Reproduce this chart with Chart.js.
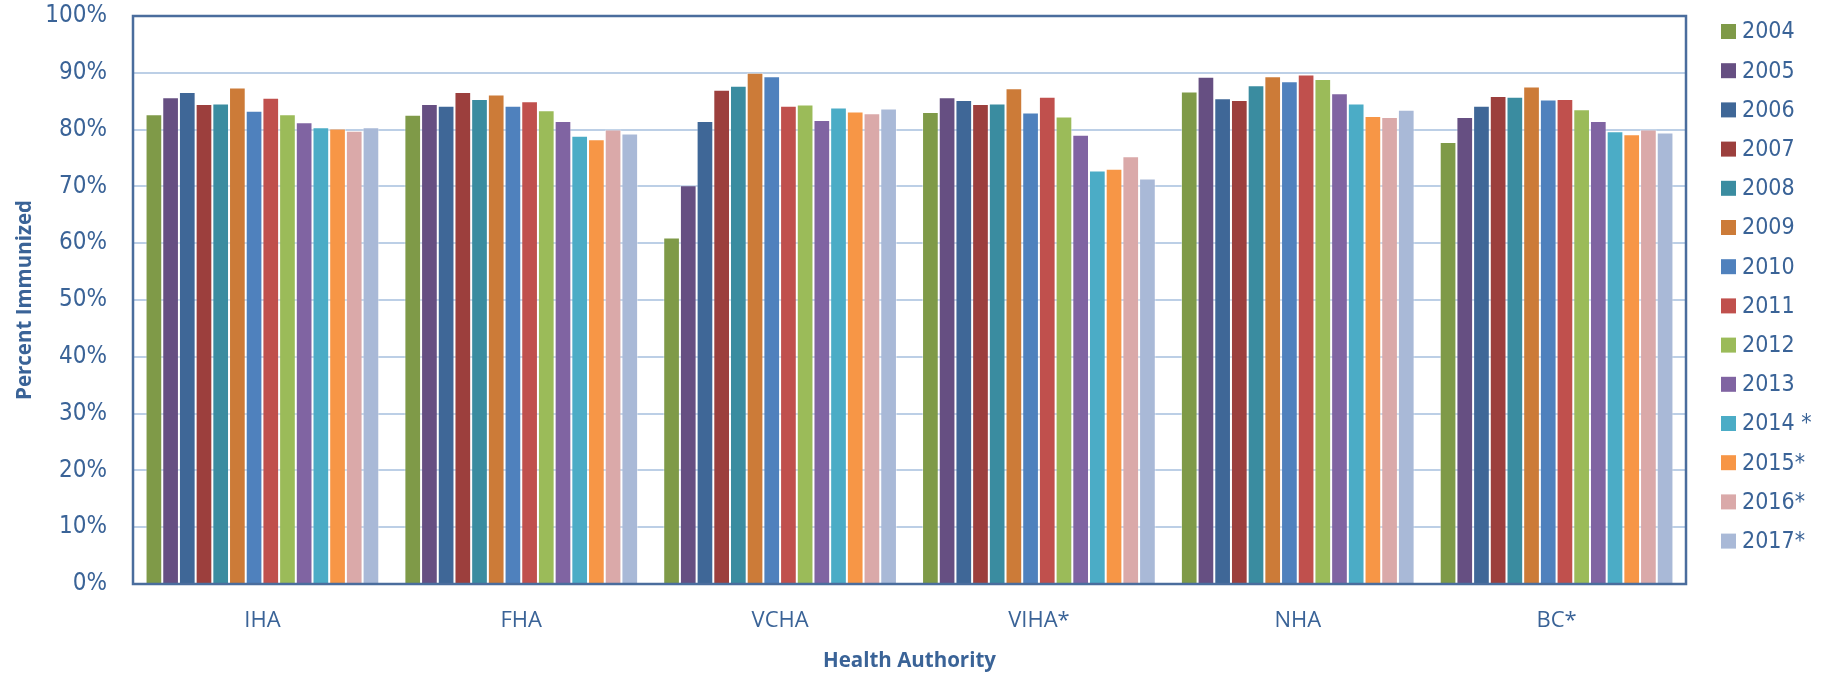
<!DOCTYPE html>
<html>
<head>
<meta charset="utf-8">
<title>Percent Immunized by Health Authority</title>
<script src="https://cdn.jsdelivr.net/npm/chart.js@4/dist/chart.umd.min.js"></script>
<style>
  html, body { margin: 0; padding: 0; background: #fff; }
  #wrap { width: 1831px; height: 674px; position: relative; }
</style>
</head>
<body>
<div id="wrap"><canvas id="myChart"></canvas></div>
<script>
// Régions (catégories) et années
const regions = ["IHA", "FHA", "VCHA", "VIHA*", "NHA", "BC*"];
const years = ["2004", "2005", "2006", "2007", "2008", "2009", "2010",
  "2011", "2012", "2013", "2014 *", "2015*", "2016*", "2017*"];

// Valeurs (% immunisés), une liste par année
const y2004 = [82.7, 82.6, 61.0, 83.1, 86.7, 77.8];
const y2005 = [85.7, 84.5, 70.2, 85.7, 89.3, 82.2];
const y2006 = [86.6, 84.2, 81.5, 85.2, 85.5, 84.2];
const y2007 = [84.5, 86.6, 87.0, 84.5, 85.2, 85.9];
const y2008 = [84.6, 85.4, 87.7, 84.6, 87.8, 85.8];
const y2009 = [87.4, 86.2, 90.0, 87.3, 89.4, 87.6];
const y2010 = [83.3, 84.2, 89.4, 83.0, 88.5, 85.3];
const y2011 = [85.6, 85.0, 84.2, 85.8, 89.7, 85.4];
const y2012 = [82.7, 83.4, 84.4, 82.3, 88.9, 83.6];
const y2013 = [81.3, 81.5, 81.7, 79.1, 86.4, 81.5];
const y2014 = [80.4, 78.9, 83.9, 72.8, 84.6, 79.7];
const y2015 = [80.2, 78.3, 83.2, 73.1, 82.4, 79.2];
const y2016 = [79.8, 80.0, 82.9, 75.3, 82.2, 80.0];
const y2017 = [80.4, 79.3, 83.7, 71.4, 83.5, 79.5];
const series = [y2004, y2005, y2006, y2007, y2008, y2009, y2010,
  y2011, y2012, y2013, y2014, y2015, y2016, y2017];

// Graduations de l'axe Y
const yTicks = [0, 10, 20, 30, 40, 50, 60, 70, 80, 90, 100];

const colors = ["#7F9A48", "#664F82", "#3F6797", "#9C3F3D", "#3A8CA0", "#CC7B38", "#4F81BD",
  "#C0504D", "#9BBB59", "#8064A2", "#4BACC6", "#F79646", "#DAA9A9", "#A9B9D7"];

const textColor = "#3A6397";
const frameColor = "#4A6D9D";

// Cadre autour de la zone de tracé
const framePlugin = {
  id: "frame",
  afterDatasetsDraw(chart) {
    const { ctx, chartArea: a } = chart;
    ctx.save();
    ctx.strokeStyle = frameColor;
    ctx.lineWidth = 2.5;
    ctx.strokeRect(a.left, a.top, a.right - a.left, a.bottom - a.top);
    ctx.restore();
  },
};

// Légende à droite, dessinée à partir des datasets
const legendPlugin = {
  id: "sideLegend",
  afterDraw(chart) {
    const { ctx } = chart;
    ctx.save();
    ctx.font = "23px 'DejaVu Sans Condensed', 'DejaVu Sans', sans-serif";
    ctx.textBaseline = "middle";
    ctx.textAlign = "left";
    chart.data.datasets.forEach((ds, i) => {
      const cy = 31.5 + i * 39.2;
      ctx.fillStyle = ds.backgroundColor;
      ctx.fillRect(1721, cy - 7.5, 15, 15);
      ctx.fillStyle = textColor;
      ctx.fillText(ds.label, 1742, cy + 1);
    });
    ctx.restore();
  },
};

const ctx = document.getElementById("myChart");
new Chart(ctx, {
  type: "bar",
  data: {
    labels: regions,
    datasets: series.map((data, i) => ({
      label: years[i],
      data: data,
      backgroundColor: colors[i],
      borderColor: "rgba(255,255,255,0.45)",
      borderWidth: 1,
      categoryPercentage: 0.903,
      barPercentage: 1.0,
    })),
  },
  options: {
    responsive: true,
    maintainAspectRatio: false,
    devicePixelRatio: 1,
    animation: false,
    layout: { padding: { left: 0, right: 145, top: 16, bottom: 0 } },
    plugins: {
      legend: { display: false },
      tooltip: { enabled: false },
    },
    scales: {
      x: {
        grid: { display: false, drawTicks: false },
        border: { display: false },
        ticks: {
          color: textColor,
          padding: 24,
          font: { family: "'Open Sans', sans-serif", size: 22, lineHeight: 1.15 },
        },
        title: {
          display: true,
          text: "Health Authority",
          color: textColor,
          font: { family: "'Open Sans', sans-serif", size: 20.5, weight: "bold", lineHeight: 1.2 },
          padding: { top: 0, bottom: 1 },
        },
        afterFit(scale) { scale.height = 90; },
      },
      y: {
        min: 0,
        max: 100,
        afterBuildTicks(scale) { scale.ticks = yTicks.map((v) => ({ value: v })); },
        grid: { color: "#BCCFE6", lineWidth: 2, drawTicks: false },
        border: { display: false },
        ticks: {
          color: textColor,
          padding: 26,
          font: { family: "'DejaVu Sans Condensed', 'DejaVu Sans', sans-serif", size: 24, lineHeight: 1.2 },
          callback: (v) => v + "%",
        },
        title: {
          display: true,
          text: "Percent Immunized",
          color: textColor,
          font: { family: "'Open Sans', sans-serif", size: 20.5, weight: "bold", lineHeight: 1.2 },
          padding: { top: 12.7, bottom: 0 },
        },
        afterFit(scale) {
          scale.width = 133;
          scale.paddingTop = 0;
          scale.paddingBottom = 0;
        },
      },
    },
  },
  plugins: [framePlugin, legendPlugin],
});
</script>
</body>
</html>
